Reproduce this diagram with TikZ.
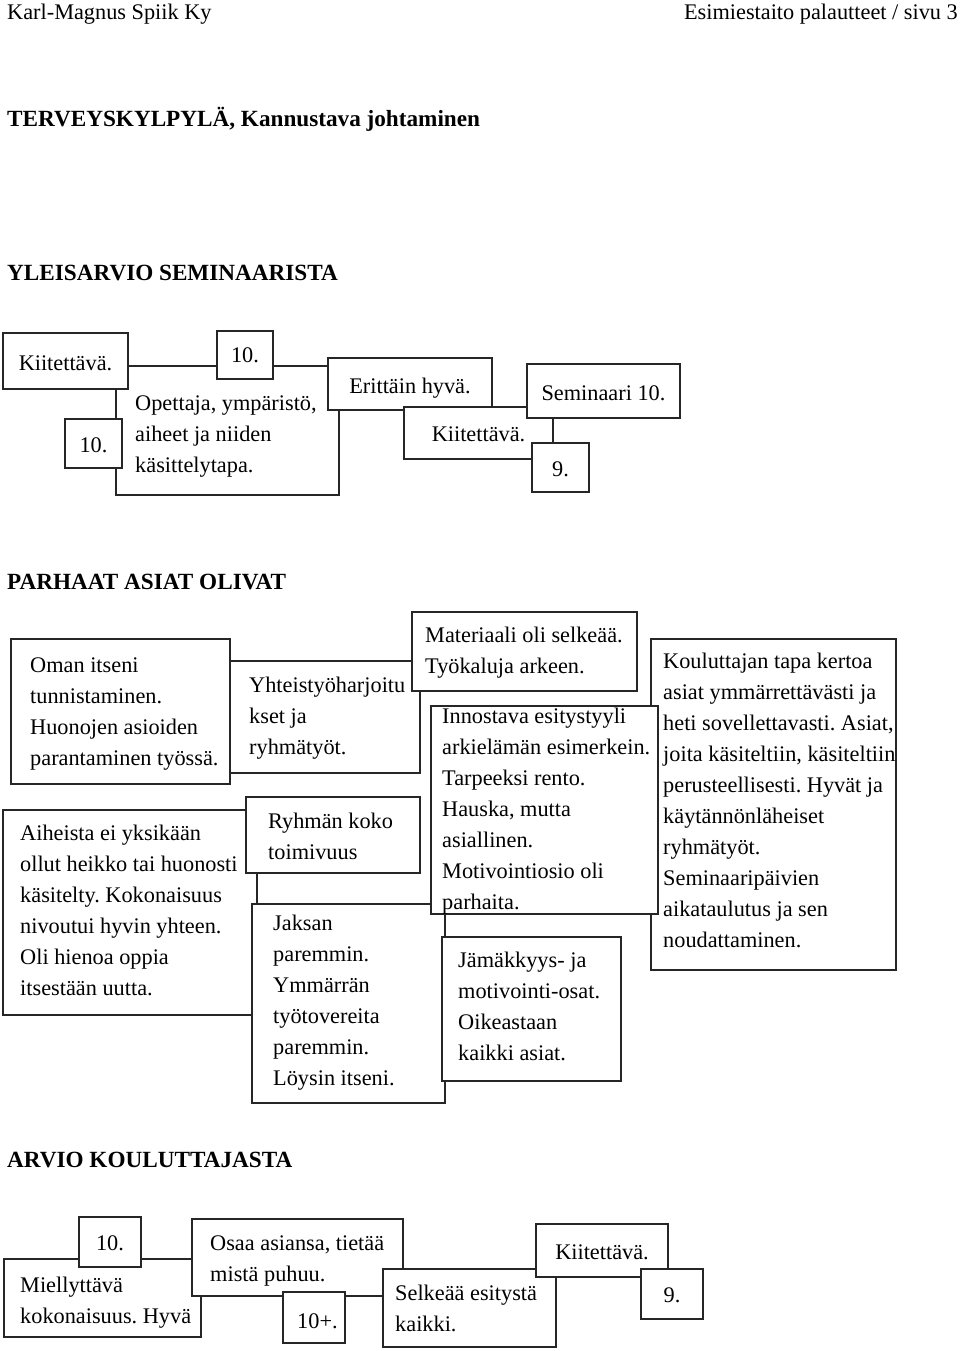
\documentclass[tikz,border=0pt]{standalone}
\usepackage{fontspec}
\setmainfont{Liberation Serif}
\frenchspacing
\newcommand\fstrut{\rule{0pt}{22pt}}
\newcommand\mkbox[5]{\node[box,anchor=north west,minimum width={(#4-#2)*1pt},minimum height={(#5-#3)*1pt}] (#1) at (#2,#3) {};}
\begin{document}
\begin{tikzpicture}[x=1pt,y=-1pt,
  box/.style={draw=black!85,line width=1.5pt,fill=white,inner sep=0pt,outer sep=0pt},
  txt/.style={font=\fontsize{22.3}{31}\selectfont\frenchspacing,inner sep=0pt,text=black},
  ctxt/.style={txt,anchor=base},
  mtxt/.style={txt,anchor=north west,align=left},
  hd/.style={font=\fontsize{23.2}{28}\selectfont\bfseries,inner sep=0pt,anchor=base west}]
\useasboundingbox (0,0) rectangle (960,1351);
\fill[white] (0,0) rectangle (960,1351);
% header
\node[txt,anchor=base west] (hl) at (7,20) {Karl-Magnus Spiik Ky};
\node[txt,anchor=base east] (hr) at (958,20) {Esimiestaito palautteet / sivu 3};
\node[hd] (h1) at (7,127) {TERVEYSKYLPYLÄ, Kannustava johtaminen};
\node[hd] (h2) at (7,280) {YLEISARVIO SEMINAARISTA};
\node[hd] (h3) at (7,589) {PARHAAT ASIAT OLIVAT};
\node[hd] (h4) at (7,1167) {ARVIO KOULUTTAJASTA};
% section 1
\mkbox{b3}{116}{366}{339}{495}
\node[mtxt] (b3t) at (135,388) {\fstrut Opettaja, ympäristö,\\aiheet ja niiden\\käsittelytapa.};
\mkbox{b1}{3}{333}{128}{389}
\node[ctxt] (b1t) at (65.5,370) {Kiitettävä.};
\mkbox{b2}{217}{331}{273}{379}
\node[ctxt] (b2t) at (245,362) {10.};
\mkbox{b4}{65}{419}{122}{468}
\node[ctxt] (b4t) at (93.5,452) {10.};
\mkbox{b5}{328}{358}{492}{410}
\node[ctxt] (b5t) at (410,393) {Erittäin hyvä.};
\mkbox{b6}{404}{407}{553}{459}
\node[ctxt] (b6t) at (478.5,441) {Kiitettävä.};
\mkbox{b7}{527}{364}{680}{418}
\node[ctxt] (b7t) at (603.5,400) {Seminaari 10.};
\mkbox{b8}{532}{443}{589}{492}
\node[ctxt] (b8t) at (560.5,476) {9.};
% section 2
\mkbox{c2}{222}{661}{420}{773}
\node[mtxt] (c2t) at (249,670) {\fstrut Yhteistyöharjoitu\\kset ja\\ryhmätyöt.};
\mkbox{c1}{11}{639}{230}{784}
\node[mtxt] (c1t) at (30,650) {\fstrut Oman itseni\\tunnistaminen.\\Huonojen asioiden\\parantaminen työssä.};
\mkbox{d1}{412}{612}{637}{691}
\node[mtxt] (d1t) at (425,620) {\fstrut Materiaali oli selkeää.\\Työkaluja arkeen.};
\mkbox{c3}{3}{810}{257}{1015}
\node[mtxt] (c3t) at (20,818) {\fstrut Aiheista ei yksikään\\ollut heikko tai huonosti\\käsitelty. Kokonaisuus\\nivoutui hyvin yhteen.\\Oli hienoa oppia\\itsestään uutta.};
\mkbox{c4}{246}{797}{420}{873}
\node[mtxt] (c4t) at (268,806) {\fstrut Ryhmän koko\\toimivuus};
\mkbox{c5}{252}{904}{445}{1103}
\node[mtxt] (c5t) at (273,908) {\fstrut Jaksan\\paremmin.\\Ymmärrän\\työtovereita\\paremmin.\\Löysin itseni.};
\mkbox{d3}{651}{639}{896}{970}
\node[mtxt] (d3t) at (663,646) {\fstrut Kouluttajan tapa kertoa\\asiat ymmärrettävästi ja\\heti sovellettavasti. Asiat,\\joita käsiteltiin, käsiteltiin\\perusteellisesti. Hyvät ja\\käytännönläheiset\\ryhmätyöt.\\Seminaaripäivien\\aikataulutus ja sen\\noudattaminen.};
\mkbox{d2}{431}{706}{658}{914}
\node[mtxt] (d2t) at (442,701) {\fstrut Innostava esitystyyli\\arkielämän esimerkein.\\Tarpeeksi rento.\\Hauska, mutta\\asiallinen.\\Motivointiosio oli\\parhaita.};
\mkbox{d4}{442}{937}{621}{1081}
\node[mtxt] (d4t) at (458,945) {\fstrut Jämäkkyys- ja\\motivointi-osat.\\Oikeastaan\\kaikki asiat.};
% section 3
\mkbox{e2}{4}{1259}{201}{1337}
\node[mtxt] (e2t) at (20,1270) {\fstrut Miellyttävä\\kokonaisuus. Hyvä};
\mkbox{e1}{79}{1217}{141}{1267}
\node[ctxt] (e1t) at (110,1250) {10.};
\mkbox{e3}{192}{1219}{403}{1296}
\node[mtxt] (e3t) at (210,1228) {\fstrut Osaa asiansa, tietää\\mistä puhuu.};
\mkbox{e4}{283}{1292}{345}{1343}
\node[txt,anchor=base west] (e4t) at (297,1328) {10+.};
\mkbox{e5}{383}{1269}{556}{1347}
\node[mtxt] (e5t) at (395,1278) {\fstrut Selkeää esitystä\\kaikki.};
\mkbox{e6}{536}{1224}{668}{1277}
\node[ctxt] (e6t) at (602,1259) {Kiitettävä.};
\mkbox{e7}{641}{1269}{703}{1319}
\node[ctxt] (e7t) at (672,1302) {9.};
\end{tikzpicture}
\end{document}
